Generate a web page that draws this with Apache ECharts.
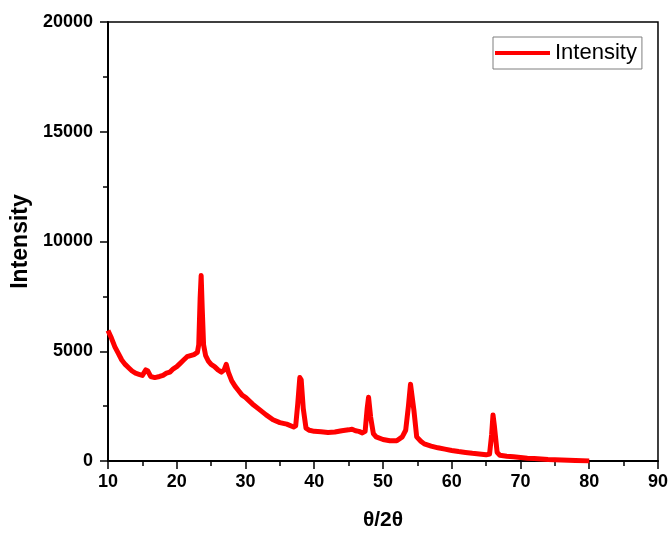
<!DOCTYPE html>
<html>
<head>
<meta charset="utf-8">
<script src="https://cdn.jsdelivr.net/npm/echarts@6/dist/echarts.min.js"></script>
<style>
html,body{margin:0;padding:0;background:#fff;}
#chart{width:671px;height:536px;}
</style>
</head>
<body>
<div id="chart"></div>
<script>
// 2θ positions (degrees)
var twoTheta = [10, 10.5, 11, 11.5, 12, 12.5, 13, 13.5, 14, 14.5, 15, 15.5, 15.8, 16.2, 16.8, 17.5, 18, 18.5, 19, 19.5, 20, 20.5, 21, 21.5, 22, 22.5, 23, 23.2, 23.4, 23.55, 23.7, 23.9, 24.2, 24.6, 25, 25.5, 26, 26.5, 26.9, 27.2, 27.5, 28, 28.5, 29, 29.5, 30, 31, 32, 33, 34, 35, 36, 37, 37.3, 37.6, 37.9, 38.1, 38.4, 38.8, 39.3, 40, 41, 42, 43, 44, 45, 45.5, 46, 46.5, 47, 47.4, 47.7, 47.9, 48.2, 48.6, 49, 50, 51, 52, 52.8, 53.3, 53.7, 54.0, 54.2, 54.5, 54.9, 55.5, 56, 57, 58, 59, 60, 61, 62, 63, 64, 65, 65.5, 65.8, 66.0, 66.2, 66.6, 67, 68, 69, 70, 71, 72, 73, 74, 75, 76, 77, 78, 79, 80];
// Intensity values
var intensity = [5950, 5600, 5200, 4900, 4600, 4400, 4250, 4100, 4000, 3950, 3900, 4150, 4100, 3850, 3800, 3850, 3900, 4000, 4050, 4200, 4300, 4450, 4600, 4750, 4800, 4850, 4950, 5300, 7400, 8450, 7000, 5300, 4800, 4550, 4400, 4300, 4150, 4050, 4150, 4400, 4050, 3650, 3400, 3200, 3000, 2900, 2600, 2350, 2100, 1880, 1750, 1680, 1550, 1600, 2600, 3800, 3700, 2400, 1500, 1400, 1350, 1330, 1300, 1320, 1380, 1420, 1450, 1380, 1350, 1280, 1350, 2400, 2900, 2000, 1250, 1100, 980, 920, 920, 1100, 1400, 2500, 3500, 3450, 2300, 1100, 900, 780, 680, 600, 540, 480, 430, 390, 350, 320, 280, 320, 1200, 2100, 1600, 400, 260, 220, 190, 160, 130, 110, 90, 70, 60, 45, 30, 20, 10, 5];
var seriesName = 'Intensity';
var xTitle = 'θ/2θ';
var yTitle = 'Intensity';

var data = twoTheta.map(function(x, i){ return [x, intensity[i]]; });
var font = 'Liberation Sans, Arial, sans-serif';

var chart = echarts.init(document.getElementById('chart'), null, {renderer:'canvas'});
chart.setOption({
  animation:false,
  backgroundColor:'#fff',
  grid:{left:108, right:10, top:22, bottom:69, show:true, borderColor:'#000', borderWidth:1.5, backgroundColor:'transparent'},
  legend:{
    left:493, top:37,
    data:[seriesName],
    icon:'rect', itemWidth:55, itemHeight:4, itemGap:0,
    padding:[5,5,5,2],
    borderColor:'#7f7f7f', borderWidth:1,
    textStyle:{fontFamily:font, fontSize:22, color:'#000', padding:[0,0,0,0]}
  },
  xAxis:{
    type:'value', min:10, max:90, interval:10,
    name:xTitle, nameLocation:'middle', nameGap:49,
    nameTextStyle:{fontFamily:font, fontSize:21, fontWeight:'bold', color:'#000'},
    axisLine:{show:true, onZero:false, lineStyle:{color:'#000', width:2}},
    axisTick:{show:true, inside:false, length:8, lineStyle:{color:'#000', width:1.5}},
    minorTick:{show:true, splitNumber:2, length:5, lineStyle:{color:'#000', width:1.5}},
    axisLabel:{margin:12, fontFamily:font, fontSize:18, fontWeight:'bold', color:'#000',
      formatter:function(v){ return String(v); }},
    splitLine:{show:false}
  },
  yAxis:{
    type:'value', min:0, max:20000, interval:5000,
    name:yTitle, nameLocation:'middle', nameGap:66,
    nameTextStyle:{fontFamily:font, fontSize:23, fontWeight:'bold', color:'#000'},
    axisLine:{show:true, onZero:false, lineStyle:{color:'#000', width:2}},
    axisTick:{show:true, inside:false, length:8, lineStyle:{color:'#000', width:1.5}},
    minorTick:{show:true, splitNumber:2, length:5, lineStyle:{color:'#000', width:1.5}},
    axisLabel:{margin:15, fontFamily:font, fontSize:18, fontWeight:'bold', color:'#000',
      formatter:function(v){ return String(v); }},
    splitLine:{show:false}
  },
  series:[{
    name:seriesName, type:'line', data:data,
    showSymbol:false, symbol:'none',
    lineStyle:{color:'#ff0000', width:5, join:'round'},
    itemStyle:{color:'#ff0000'}
  }]
});
</script>
</body>
</html>
